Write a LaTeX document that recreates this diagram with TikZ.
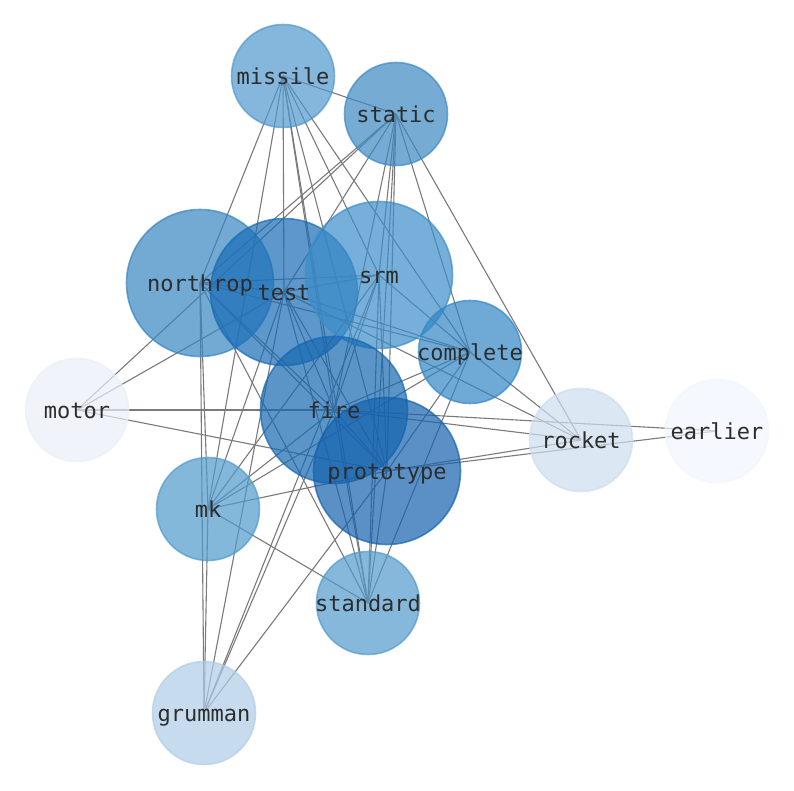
\documentclass[tikz,border=0pt]{standalone}
\usepackage{fontspec}
\newfontfamily\lblfont{DejaVu Sans Mono}
\pgfdeclarelayer{bg}
\pgfsetlayers{bg,main}
\definecolor{cMissile}{RGB}{82,152,205}
\definecolor{cStatic}{RGB}{61,137,195}
\definecolor{cNorthrop}{RGB}{55,134,195}
\definecolor{cSrm}{RGB}{61,142,201}
\definecolor{cComplete}{RGB}{50,134,197}
\definecolor{cTest}{RGB}{25,108,181}
\definecolor{cFire}{RGB}{22,104,178}
\definecolor{cProto}{RGB}{21,98,174}
\definecolor{cMotor}{RGB}{234,240,248}
\definecolor{cRocket}{RGB}{205,222,239}
\definecolor{cEarlier}{RGB}{241,246,254}
\definecolor{cMk}{RGB}{79,155,205}
\definecolor{cStandard}{RGB}{82,154,205}
\definecolor{cGrumman}{RGB}{176,205,231}
\definecolor{lblcol}{RGB}{45,45,45}
\begin{document}
\begin{tikzpicture}[x=1pt,y=1pt,
  vtx/.style={circle, inner sep=0pt, outer sep=0pt, line width=1.6pt,
    fill=#1, draw=#1, fill opacity=0.7, draw opacity=0.7},
  big/.style={minimum size=147pt},
  small/.style={minimum size=103pt},
  lbl/.style={inner sep=0pt, text=lblcol, text height=16.7pt, text depth=0pt,
    font=\lblfont\fontsize{22}{22}\selectfont},
  lnk/.style={draw=black!52, line width=1.1pt}]
\useasboundingbox (0,0) rectangle (794,790);

\node[vtx=cMissile, small] (missile) at (283,714) {};
\node[vtx=cStatic, small] (static) at (396,676) {};
\node[vtx=cNorthrop, big] (northrop) at (200,507) {};
\node[vtx=cTest, big] (test) at (284,498) {};
\node[vtx=cSrm, big] (srm) at (379,515) {};
\node[vtx=cComplete, small] (complete) at (470,438) {};
\node[vtx=cMotor, small] (motor) at (77,380) {};
\node[vtx=cFire, big] (fire) at (334,380) {};
\node[vtx=cRocket, small] (rocket) at (581,350) {};
\node[vtx=cEarlier, small] (earlier) at (717,359) {};
\node[vtx=cProto, big] (prototype) at (387,319) {};
\node[vtx=cMk, small] (mk) at (208,281) {};
\node[vtx=cStandard, small] (standard) at (368,187) {};
\node[vtx=cGrumman, small] (grumman) at (204,77) {};

\foreach \n in {missile,static,northrop,test,srm,complete,motor,fire,rocket,earlier,prototype,mk,standard,grumman}
  \node[lbl] (\n-txt) at (\n.center) {\n};

\begin{pgfonlayer}{bg}
\fill[white] (0,0) rectangle (794,790);
\foreach \a/\b in {
  missile/static, missile/northrop, missile/test, missile/srm, missile/complete,
  missile/fire, missile/prototype, missile/mk, missile/standard,
  static/northrop, static/motor, static/test, static/srm, static/fire,
  static/prototype, static/standard, static/complete, static/rocket,
  motor/test, motor/fire, motor/prototype,
  earlier/fire, earlier/prototype,
  rocket/complete, rocket/test, rocket/fire, rocket/prototype,
  standard/northrop, standard/mk, standard/test, standard/fire, standard/srm,
  standard/prototype, standard/complete,
  grumman/northrop, grumman/mk, grumman/test, grumman/srm, grumman/fire,
  grumman/prototype,
  mk/northrop, mk/test, mk/srm, mk/fire, mk/complete, mk/prototype,
  complete/srm, complete/test, complete/northrop, complete/fire, complete/prototype,
  northrop/test, northrop/srm, northrop/fire, northrop/prototype,
  test/srm, test/fire, test/prototype,
  srm/fire, srm/prototype, fire/prototype}
  \draw[lnk] (\a.center) -- (\b.center);
\end{pgfonlayer}
\end{tikzpicture}
\end{document}
